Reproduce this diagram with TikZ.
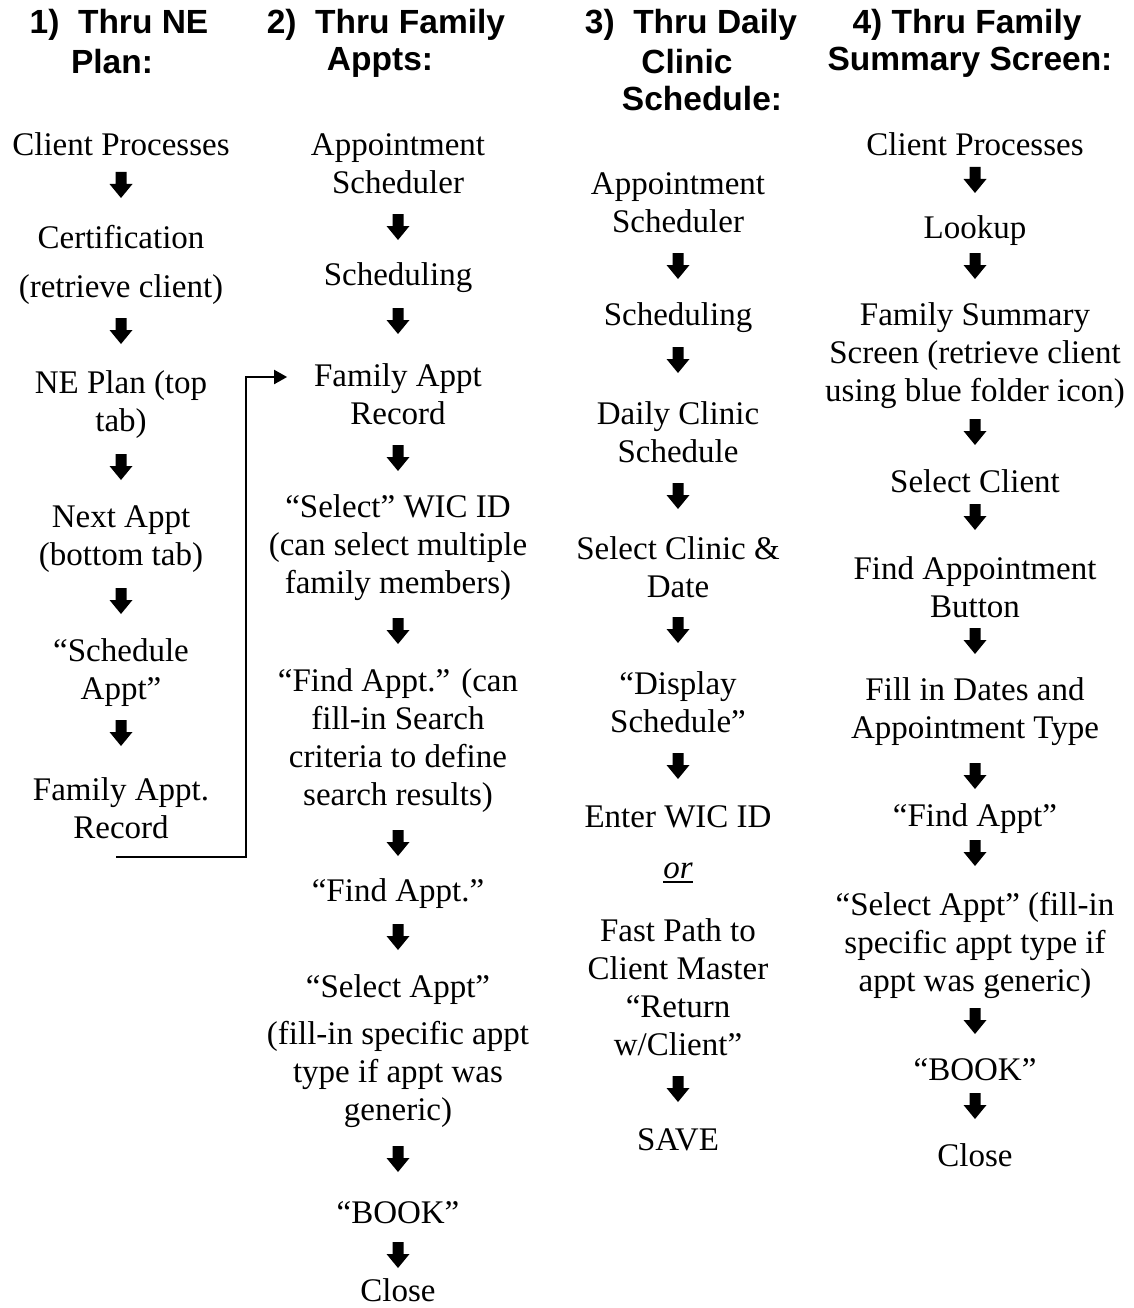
\documentclass[tikz,border=0pt]{standalone}
\usepackage{fontspec}
\setmainfont{Liberation Serif}
\newfontfamily\headfont{Liberation Sans}
\usetikzlibrary{arrows.meta}

% heavier underline than the font's own rule
\newlength\ulwd
\newcommand\thickul[1]{\settowidth\ulwd{#1}\rlap{\rule[-5pt]{\ulwd}{2.5pt}}#1}

\tikzset{
  stepbox/.style={align=center, inner sep=0pt, outer sep=0pt, yshift=-3pt,
    font=\fontsize{33}{38}\selectfont},
  headline/.style={inner sep=0pt, outer sep=0pt,
    font=\headfont\bfseries\fontsize{33.5}{37}\selectfont},
  downarrow/.style={shape=rectangle, minimum width=23pt, minimum height=26pt,
    inner sep=0pt, outer sep=0pt, fill=white,
    path picture={\fill[black]
      ([xshift=-5.5pt]path picture bounding box.north) --
      ([xshift=5.5pt]path picture bounding box.north) --
      ([xshift=5.5pt,yshift=-12pt]path picture bounding box.north) --
      ([yshift=-12pt]path picture bounding box.north east) --
      (path picture bounding box.south) --
      ([yshift=-12pt]path picture bounding box.north west) --
      ([xshift=-5.5pt,yshift=-12pt]path picture bounding box.north) -- cycle;}},
  link/.style={line width=2pt, -{Triangle[length=13pt,width=14pt]}}
}

\begin{document}
\begin{tikzpicture}[x=1pt, y=-1pt]
\useasboundingbox (0,0) rectangle (1133,1308);

% ---- headings ----
\node[headline] (h1a) at (119,25) {1)\ \ Thru NE};
\node[headline] (h1b) at (112,62) {Plan:};
\node[headline] (h2a) at (386,25) {2)\ \ Thru Family};
\node[headline] (h2b) at (380,62) {Appts:};
\node[headline] (h3a) at (691,25) {3)\ \ Thru Daily};
\node[headline] (h3b) at (687,62) {Clinic};
\node[headline] (h3c) at (702,99) {Schedule:};
\node[headline] (h4a) at (967,25) {4) Thru Family};
\node[headline] (h4b) at (970,62) {Summary Screen:};

% ---- column 1: through the NE plan ----
\node[stepbox] (a1) at (121,141) {Client Processes};
\node[downarrow] (a1x) at (121,185) {};
\node[stepbox] (a2) at (121,261.5) {Certification\\[11pt](retrieve client)};
\node[downarrow] (a2x) at (121,331) {};
\node[stepbox] (a3) at (121,401.5) {NE Plan (top\\tab)};
\node[downarrow] (a3x) at (121,467) {};
\node[stepbox] (a4) at (121,536.5) {Next Appt\\(bottom tab)};
\node[downarrow] (a4x) at (121,601) {};
\node[stepbox] (a5) at (121,669.5) {“Schedule\\Appt”};
\node[downarrow] (a5x) at (121,733) {};
\node[stepbox] (a6) at (121,805.5) {Family Appt.\\Record};

% ---- column 2: through family appointments ----
\node[stepbox] (b1) at (398,160.5) {Appointment\\Scheduler};
\node[downarrow] (b1x) at (398,227) {};
\node[stepbox] (b2) at (398,275) {Scheduling};
\node[downarrow] (b2x) at (398,321) {};
\node[stepbox] (b3) at (398,391) {Family Appt\\Record};
\node[downarrow] (b3x) at (398,458) {};
\node[stepbox] (b4) at (398,544.5) {“Select” WIC ID\\(can select multiple\\family members)};
\node[downarrow] (b4x) at (398,631) {};
\node[stepbox] (b5) at (398,737.5) {“Find Appt.” (can\\fill-in Search\\criteria to define\\search results)};
\node[downarrow] (b5x) at (398,843) {};
\node[stepbox] (b6) at (398,891) {“Find Appt.”};
\node[downarrow] (b6x) at (398,937) {};
\node[stepbox] (b7) at (398,1048.5) {“Select Appt”\\[9pt](fill-in specific appt\\type if appt was\\generic)};
\node[downarrow] (b7x) at (398,1159) {};
\node[stepbox] (b8) at (398,1210) {“BOOK”};
\node[downarrow] (b8x) at (398,1255) {};
\node[stepbox] (b9) at (398,1287) {Close};

% ---- column 3: through the daily clinic schedule ----
\node[stepbox] (c1) at (678,199.5) {Appointment\\Scheduler};
\node[downarrow] (c1x) at (678,266) {};
\node[stepbox] (c2) at (678,315) {Scheduling};
\node[downarrow] (c2x) at (678,360) {};
\node[stepbox] (c3) at (678,429.5) {Daily Clinic\\Schedule};
\node[downarrow] (c3x) at (678,496) {};
\node[stepbox] (c4) at (678,564.5) {Select Clinic \&\\Date};
\node[downarrow] (c4x) at (678,630) {};
\node[stepbox] (c5) at (678,699.5) {“Display\\Schedule”};
\node[downarrow] (c5x) at (678,766) {};
\node[stepbox] (c6) at (678,814) {Enter WIC ID};
\node[stepbox] (c7) at (678,870) {\thickul{\textit{or}}};
\node[stepbox] (c8) at (678,984) {Fast Path to\\Client Master\\“Return\\w/Client”};
\node[downarrow] (c8x) at (678,1089) {};
\node[stepbox] (c9) at (678,1137) {SAVE};

% ---- column 4: through the family summary screen ----
\node[stepbox] (d1) at (975,141) {Client Processes};
\node[downarrow] (d1x) at (975,180) {};
\node[stepbox] (d2) at (975,228) {Lookup};
\node[downarrow] (d2x) at (975,266) {};
\node[stepbox] (d3) at (975,353) {Family Summary\\Screen (retrieve client\\using blue folder icon)};
\node[downarrow] (d3x) at (975,432) {};
\node[stepbox] (d4) at (975,478) {Select Client};
\node[downarrow] (d4x) at (975,517) {};
\node[stepbox] (d5) at (975,584) {Find Appointment\\Button};
\node[downarrow] (d5x) at (975,641) {};
\node[stepbox] (d6) at (975,709) {Fill in Dates and\\Appointment Type};
\node[downarrow] (d6x) at (975,776) {};
\node[stepbox] (d7) at (975,816) {“Find Appt”};
\node[downarrow] (d7x) at (975,853) {};
\node[stepbox] (d8) at (975,942) {“Select Appt” (fill-in\\specific appt type if\\appt was generic)};
\node[downarrow] (d8x) at (975,1021) {};
\node[stepbox] (d9) at (975,1067) {“BOOK”};
\node[downarrow] (d9x) at (975,1106) {};
\node[stepbox] (d10) at (975,1152) {Close};

% ---- hand-off from the NE plan path into the family appointment record ----
\coordinate (a6out) at ([xshift=-5pt,yshift=-18pt]a6.south);
\coordinate (b3in) at ([xshift=-27pt,yshift=17pt]b3.west);
\draw[link] (a6out) -- ++(130,0) |- (b3in);
\end{tikzpicture}
\end{document}
